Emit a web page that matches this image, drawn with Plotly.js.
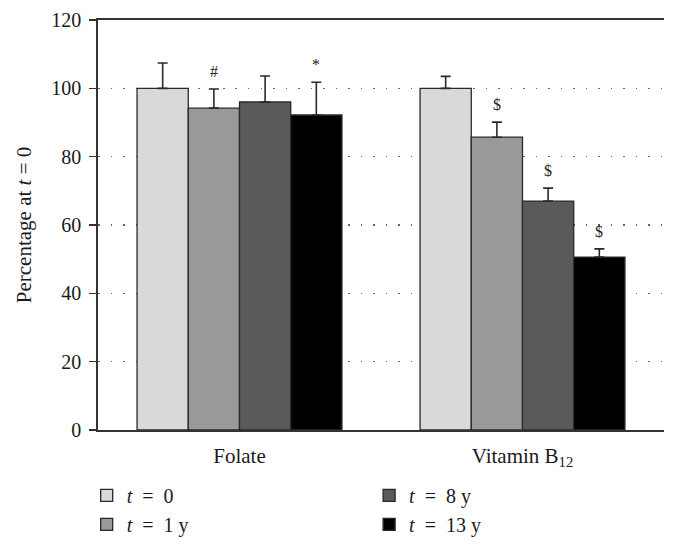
<!DOCTYPE html>
<html><head><meta charset="utf-8">
<script src="https://cdn.plot.ly/plotly-3.0.1.min.js"></script>
<style>body{margin:0;background:#fff}#c{width:674px;height:547px}</style>
</head><body><div id="c"></div>
<script>
const categories = ['Folate', 'Vitamin B<sub>12</sub>'];
const seriesNames = ['<i>t</i>\u2002=\u20020', '<i>t</i>\u2002=\u20021 y', '<i>t</i>\u2002=\u20028 y', '<i>t</i>\u2002=\u200213 y'];
const t0 = [100, 100];
const t1 = [94.2, 85.7];
const t8 = [96.0, 67.0];
const t13 = [92.2, 50.6];
const err0 = [7.4, 3.5];
const err1 = [5.6, 4.4];
const err8 = [7.6, 3.8];
const err13 = [9.6, 2.4];
const marks0 = ['', ''];
const marks1 = ['#', '$'];
const marks8 = ['', '$'];
const marks13 = ['*', '$'];
const yTicks = [0, 20, 40, 60, 80, 100, 120];

const colors = ['#d9d9d9', '#999999', '#5a5a5a', '#000000'];
const values = [t0, t1, t8, t13];
const errs = [err0, err1, err8, err13];
const marks = [marks0, marks1, marks8, marks13];
const legends = ['legend', 'legend', 'legend2', 'legend2'];
const serif = 'Liberation Serif, Times New Roman, serif';

const traces = values.map((v, i) => ({
  type: 'bar', x: categories, y: v, name: seriesNames[i],
  legend: legends[i],
  marker: {color: colors[i], line: {color: '#2a2a2a', width: 1.3}},
  error_y: {type: 'data', symmetric: false, array: errs[i], arrayminus: [0, 0],
            color: '#2a2a2a', thickness: 1.6, width: 5}
}));

// annotation positions from bar layout
const bargap = 0.276;
const groupW = 1 - bargap;
const barW = groupW / values.length;
const annotations = [];
values.forEach((v, i) => {
  v.forEach((val, j) => {
    if (marks[i][j]) {
      annotations.push({
        xref: 'x', yref: 'y', x: j - groupW / 2 + barW * (i + 0.5),
        y: val + errs[i][j], yanchor: 'bottom', yshift: 7,
        text: marks[i][j], showarrow: false,
        font: {family: serif, size: 16, color: '#222'}
      });
    }
  });
});

const layout = {
  width: 674, height: 547,
  margin: {l: 98, r: 10, t: 20, b: 117, autoexpand: false},
  paper_bgcolor: '#fff', plot_bgcolor: '#fff',
  barmode: 'group', bargap: bargap, bargroupgap: 0,
  font: {family: serif, size: 20, color: '#1a1a1a'},
  xaxis: {
    type: 'category', showline: true, linecolor: '#333', linewidth: 1.8,
    mirror: true, ticks: '', showgrid: false, zeroline: false,
    ticklabelstandoff: 6,
    tickfont: {family: serif, size: 21, color: '#1a1a1a'}, range: [-0.5, 1.5]
  },
  yaxis: {
    range: [0, 120], tickvals: yTicks, ticktext: yTicks.map(String),
    showline: true, linecolor: '#333', linewidth: 1.8, mirror: false,
    ticks: 'outside', ticklen: 7, tickwidth: 1.5, tickcolor: '#333',
    ticklabelstandoff: 4,
    showgrid: true, gridcolor: '#666', gridwidth: 1.5, griddash: '1.5px,11px',
    zeroline: false,
    tickfont: {family: serif, size: 20, color: '#1a1a1a'},
    title: {text: 'Percentage at <i>t</i> = 0', font: {family: serif, size: 21, color: '#1a1a1a'}, standoff: 14}
  },
  legend: {
    x: -0.02, y: -0.112, xanchor: 'left', yanchor: 'top', orientation: 'v',
    font: {family: serif, size: 20, color: '#1a1a1a'}, tracegroupgap: 0,
    bgcolor: 'rgba(0,0,0,0)', traceorder: 'normal'
  },
  legend2: {
    x: 0.479, y: -0.112, xanchor: 'left', yanchor: 'top', orientation: 'v',
    font: {family: serif, size: 20, color: '#1a1a1a'}, tracegroupgap: 0,
    bgcolor: 'rgba(0,0,0,0)', traceorder: 'normal'
  },
  annotations: annotations
};
Plotly.newPlot('c', traces, layout, {displayModeBar: false, staticPlot: true});
</script></body></html>
